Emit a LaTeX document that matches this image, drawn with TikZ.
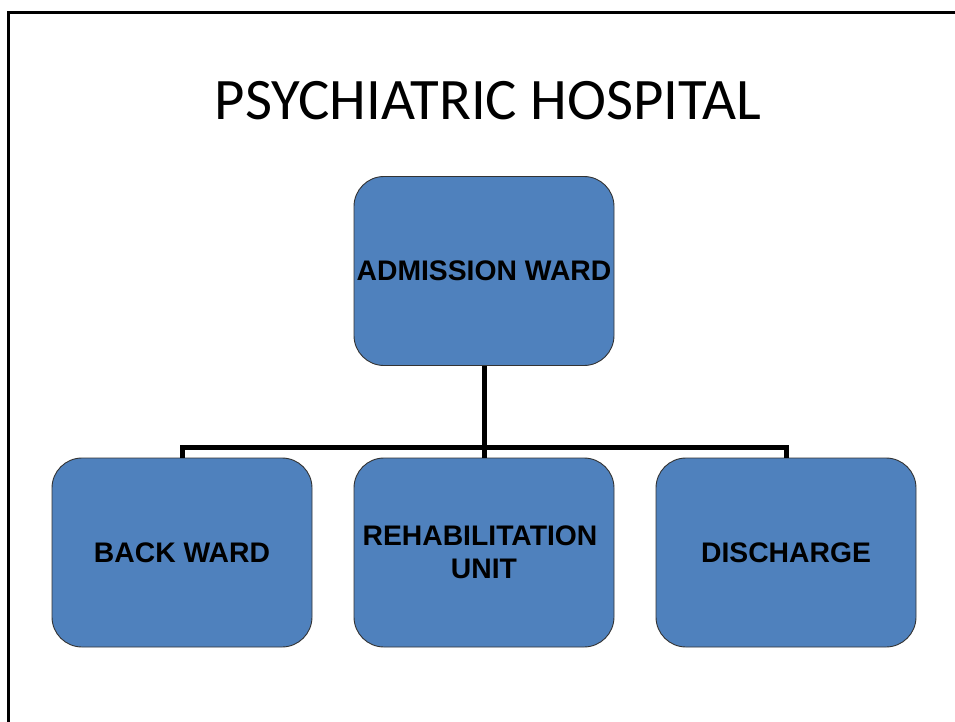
\documentclass[tikz,border=0pt]{standalone}
\usepackage{fontspec}
\setmainfont{Liberation Sans}
\newfontfamily\titlefont{Carlito}
\definecolor{boxblue}{HTML}{4F81BD}
\definecolor{boxedge}{HTML}{333333}
\begin{document}
\begin{tikzpicture}[x=1pt,y=-1pt,
  wardbox/.style={draw=boxedge, line width=0.9pt, fill=boxblue, rounded corners=30pt,
    minimum width=260pt, minimum height=189pt, inner sep=0pt, align=center,
    font=\fontsize{28.3}{33.5}\selectfont\bfseries},
  conn/.style={line width=5pt, line join=miter, draw=black}]
\useasboundingbox (0,0) rectangle (955,722);
\begin{scope}
\clip (0,0) rectangle (955,722);
\draw[line width=3pt] (980,12.5) -- (8.5,12.5) -- (8.5,740);
\end{scope}
\node (title) at (488,101) {\titlefont\fontsize{58.8}{70}\selectfont PSYCHIATRIC HOSPITAL};
\node[wardbox] (adm) at (484,271) {ADMISSION WARD};
\node[wardbox] (back) at (182,552.5) {BACK WARD};
\node[wardbox] (reh) at (484,552.5) {REHABILITATION\kern8pt\\UNIT};
\node[wardbox] (dis) at (786,552.5) {DISCHARGE};
\coordinate (j) at (484,447.5);
\draw[conn] (adm.south) -- (j);
\draw[conn] (back.north) |- (j) -| (dis.north);
\draw[conn] (j) -- (reh.north);
\end{tikzpicture}
\end{document}
